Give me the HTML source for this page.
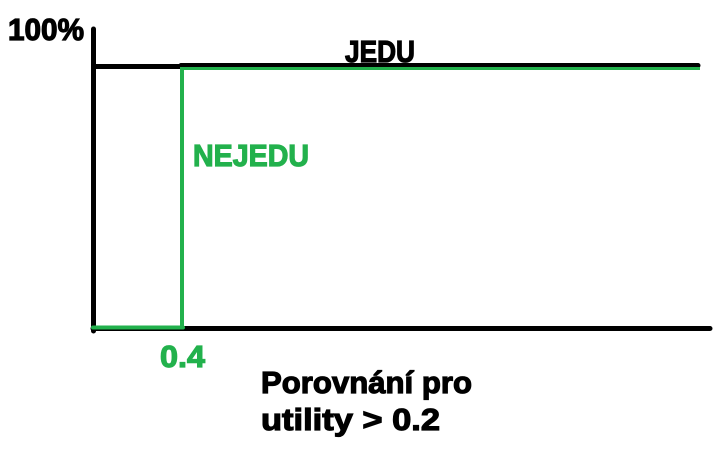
<!DOCTYPE html>
<html><head><style>body{margin:0;background:#fff}svg{display:block}text{font-family:"Liberation Sans",sans-serif;font-weight:bold;stroke-width:1.2}</style></head>
<body>
<svg width="728" height="459" xmlns="http://www.w3.org/2000/svg">
<rect width="728" height="459" fill="#fff"/>
<line x1="93.5" y1="29" x2="93.5" y2="331" stroke="#000" stroke-width="5" stroke-linecap="round"/>
<line x1="93" y1="66.5" x2="181" y2="66.5" stroke="#000" stroke-width="5"/>
<line x1="181" y1="65.5" x2="698" y2="65.5" stroke="#000" stroke-width="5" stroke-linecap="round"/>
<line x1="183" y1="68.5" x2="700" y2="68.5" stroke="#22b14c" stroke-width="3"/>
<line x1="182" y1="67" x2="182" y2="328" stroke="#22b14c" stroke-width="4"/>
<line x1="93" y1="328.5" x2="710" y2="328.5" stroke="#000" stroke-width="5" stroke-linecap="round"/>
<line x1="93" y1="327.5" x2="183" y2="327.5" stroke="#22b14c" stroke-width="4" stroke-linecap="round"/>
<text x="8" y="40" font-size="31" stroke="#000" textLength="76" lengthAdjust="spacingAndGlyphs">100%</text>
<text x="345" y="62" font-size="31" stroke="#000" textLength="70" lengthAdjust="spacingAndGlyphs">JEDU</text>
<text x="193" y="166" font-size="31" fill="#22b14c" stroke="#22b14c" textLength="116" lengthAdjust="spacingAndGlyphs">NEJEDU</text>
<text x="160" y="367" font-size="31" fill="#22b14c" stroke="#22b14c" textLength="45" lengthAdjust="spacingAndGlyphs">0.4</text>
<text x="261" y="393" font-size="31" stroke="#000" textLength="211" lengthAdjust="spacingAndGlyphs">Porovnání pro</text>
<text x="261" y="430" font-size="31" stroke="#000" textLength="179" lengthAdjust="spacingAndGlyphs">utility &gt;  0.2</text>
</svg>
</body></html>
